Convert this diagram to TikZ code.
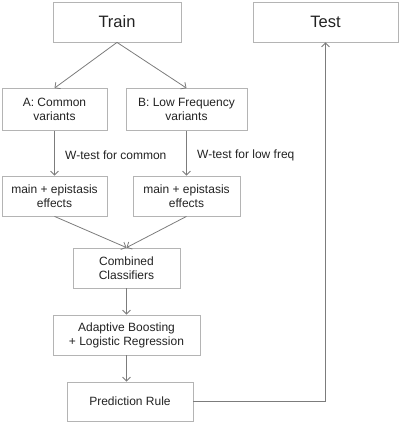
\documentclass[tikz,border=0pt]{standalone}
\usepackage{fontspec}
\setmainfont{Liberation Sans}
\usepackage{tikz}
\usetikzlibrary{arrows.meta}
\definecolor{boxgray}{HTML}{B4B4B4}
\definecolor{linegray}{HTML}{7C7C7C}
\definecolor{textgray}{HTML}{222222}
\newcommand{\fcnode}[5] {\node at (#1) (#2) [fcbox, minimum width=#3, minimum height=#4] {#5};}
\newcommand{\fcbignode}[4] {\node at (#1) (#2) [fcbox, font=\fontsize{16.5}{18}\selectfont, minimum width=#3, minimum height=40pt] {#4};}
\newcommand{\fcarrow}[2] {\draw [fcline, ->] (#1) -- (#2);}
\newcommand{\fclabelarrow}[3] {\draw [fcline, ->] (#1) -- (#2) node [midway, right, xshift=7pt, yshift=-2pt] {#3};}
\newcommand{\fcelbowarrow}[2] {\draw [fcline, ->] (#1) -| (#2);}

\begin{document}
\begin{tikzpicture}[x=1pt, y=-1pt,
  fcbox/.style={draw=boxgray, line width=0.8pt, align=center, inner sep=0pt},
  fcline/.style={draw=linegray, line width=0.8pt},
  >={Straight Barb[length=4pt, width=8pt]},
  every node/.style={text=textgray, font=\fontsize{12}{14}\selectfont}]
\useasboundingbox (0,0) rectangle (400,422);
\fcbignode {117,22} {Train} {128pt} {Train};
\fcbignode {325.5,22} {Test} {145pt} {Test};
\fcnode {54.5,109.5} {A} {105pt} {42pt} {A: Common\\variants};
\fcnode {186.5,109.5} {B} {121pt} {42pt} {B: Low Frequency\\variants};
\fcnode {54.5,196} {MA} {105pt} {40pt} {main + epistasis\\effects};
\fcnode {186.5,196} {MB} {107pt} {40pt} {main + epistasis\\effects};
\fcnode {126.5,268} {CC} {107pt} {40pt} {Combined\\Classifiers};
\fcnode {126.5,335} {AB} {147pt} {40pt} {Adaptive Boosting\\+ Logistic Regression};
\fcnode {130,401.5} {PR} {126pt} {39pt} {Prediction Rule};

\fcarrow{Train.south}{A.north};
\fcarrow{Train.south}{B.north};
\fclabelarrow{A}{MA}{W-test for common};
\fclabelarrow{B}{MB}{W-test for low freq};
\fcarrow{MA.south}{CC.north};
\fcarrow{MB.south}{CC.north};
\fcarrow{CC}{AB};
\fcarrow{AB.south}{AB.south |- PR.north};
\fcelbowarrow{PR}{Test};
%\fcarrow{PR}{Test};
\end{tikzpicture}
\end{document}
